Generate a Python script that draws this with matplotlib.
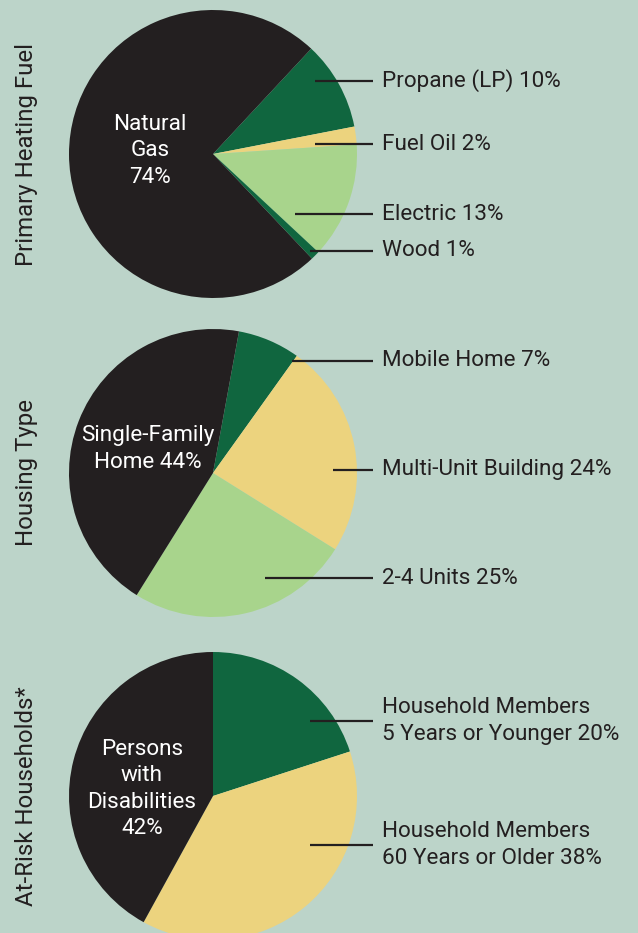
import matplotlib.pyplot as plt

plt.rcParams["font.family"] = ["Roboto", "DejaVu Sans"]

BG = "#bcd4c9"
INK = "#231f20"
BLACK = "#231f20"
DKGREEN = "#10663f"
YELLOW = "#ecd37e"
LTGREEN = "#a8d48c"

# panel 1: primary heating fuel
fuel_labels = ["Propane (LP) 10%", "Fuel Oil 2%", "Electric 13%", "Wood 1%"]
fuel_values = [10, 2, 13, 1, 74]
fuel_colors = [DKGREEN, YELLOW, LTGREEN, DKGREEN, BLACK]
fuel_inner = "Natural\nGas\n74%"

# panel 2: housing type
housing_labels = ["Mobile Home 7%", "Multi-Unit Building 24%", "2-4 Units 25%"]
housing_values = [7, 24, 25, 44]
housing_colors = [DKGREEN, YELLOW, LTGREEN, BLACK]
housing_inner = "Single-Family\nHome 44%"

# panel 3: at-risk households
risk_labels = ["Household Members\n5 Years or Younger 20%",
               "Household Members\n60 Years or Older 38%"]
risk_values = [20, 38, 42]
risk_colors = [DKGREEN, YELLOW, BLACK]
risk_inner = "Persons\nwith\nDisabilities\n42%"

W, H = 638, 933
R = 144
FS = 16.2

fig = plt.figure(figsize=(W / 100, H / 100), dpi=100)
fig.patch.set_facecolor(BG)
ax = fig.add_axes([0, 0, 1, 1])
ax.set_facecolor(BG)


def panel(cy, values, colors, start, title, inner, inner_xy, labels, label_ys, line_x0):
    cy = H - cy
    ax.pie(values, colors=colors, startangle=start, counterclock=False,
           center=(213, cy), radius=R, wedgeprops=dict(linewidth=0))
    ax.text(27, cy, title, rotation=90, ha="center", va="center",
            fontsize=17.3, color=INK)
    ax.text(inner_xy[0], H - inner_xy[1], inner, ha="center", va="center",
            fontsize=FS, color="white", linespacing=1.34)
    for lab, ly, x0 in zip(labels, label_ys, line_x0):
        ax.plot([x0, 373], [H - ly, H - ly], color=INK, lw=1.6,
                solid_capstyle="butt")
        ax.text(382, H - ly, lab, ha="left", va="center", fontsize=FS,
                color=INK, linespacing=1.34)


panel(154, fuel_values, fuel_colors, 47.0, "Primary Heating Fuel",
      fuel_inner, (150, 151), fuel_labels, [81, 144, 214, 251],
      [315, 315, 295, 310])
panel(473, housing_values, housing_colors, 79.6, "Housing Type",
      housing_inner, (148, 449), housing_labels, [361, 470, 578],
      [292, 333, 265])
panel(796, risk_values, risk_colors, 90, "At-Risk Households*",
      risk_inner, (142, 789), risk_labels, [721, 845], [310, 310])

ax.set_xlim(0, W)
ax.set_ylim(0, H)
ax.set_aspect("equal")
ax.axis("off")

fig.savefig("out.png", dpi=100, facecolor=BG)
